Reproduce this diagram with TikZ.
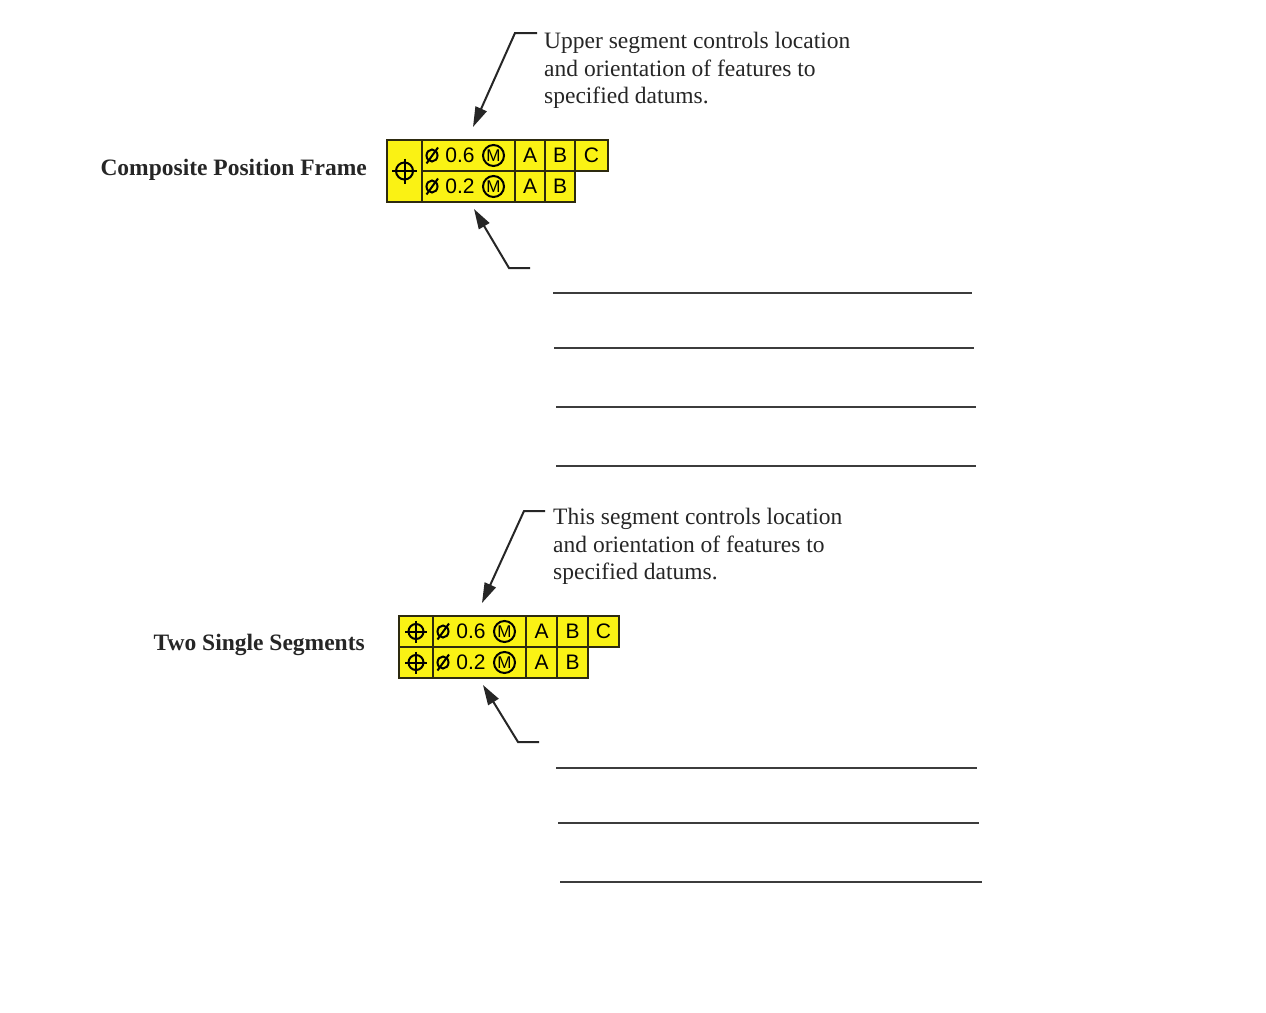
\documentclass[tikz,border=0pt]{standalone}
\usepackage{fontspec}
\setmainfont{Liberation Serif}
\newfontfamily\fcfont{Liberation Sans}
\usetikzlibrary{arrows.meta}
\definecolor{fcyellow}{RGB}{250,242,20}
\definecolor{fcline}{RGB}{45,42,15}
\definecolor{rulegray}{RGB}{60,60,60}
\begin{document}
\begin{tikzpicture}[x=1pt,y=-1pt,
  cell/.style={draw=fcline, fill=fcyellow, line width=2pt, inner sep=0pt,
    anchor=north west, minimum height=31pt,
    font=\fcfont\fontsize{21}{21}\selectfont, text=black},
  symline/.style={draw=black, line width=2pt},
  leader/.style={draw=black!85, line width=2pt, -{Triangle[length=20pt,width=12pt]}},
  rule/.style={draw=rulegray, line width=2.2pt},
  note/.style={anchor=north west, inner sep=0pt, align=left,
    font=\fontsize{23.5}{27.7}\selectfont, text=black!85},
  label/.style={anchor=base east, inner sep=0pt,
    font=\bfseries\fontsize{23.5}{27.7}\selectfont, text=black!85},
  tol/.pic={
    \draw[symline] (0,0) ellipse (5.5 and 6);
    \draw[symline] (-5.5,8) -- (6,-8);
    \node[inner sep=0pt, text=black, font=\fcfont\fontsize{21}{21}\selectfont] at (28,0) {#1};
    \draw[symline] (61.5,0) circle (10.5);
    \node[inner sep=0pt, text=black, font=\fcfont\fontsize{17}{17}\selectfont] at (61.5,0) {M};
  },
  posbig/.pic={
    \draw[symline] (0,0) circle (8.5);
    \draw[symline] (-12.5,0) -- (12.5,0) (0,-12.5) -- (0,12.5);
  },
  possmall/.pic={
    \draw[symline] (0,0) circle (7.5);
    \draw[symline] (-11,0) -- (11,0) (0,-11) -- (0,11);
  }
]
\useasboundingbox[fill=white] (0,0) rectangle (1266,1012);

% ---------- Composite Position Frame ----------
\node[label] (lab1) at (367,175) {Composite Position Frame};
\node[cell, minimum width=35pt, minimum height=62pt] (s1) at (386,139) {};
\pic at (s1.center) {posbig};
\node[cell, minimum width=93pt] (t1a) at (421,139) {};
\node[cell, minimum width=30pt] (a1a) at (514,139) {A};
\node[cell, minimum width=30pt] (b1a) at (544,139) {B};
\node[cell, minimum width=33pt] (c1a) at (574,139) {C};
\node[cell, minimum width=93pt] (t1b) at (421,170) {};
\node[cell, minimum width=30pt] (a1b) at (514,170) {A};
\node[cell, minimum width=30pt] (b1b) at (544,170) {B};
\pic at ([xshift=11pt]t1a.west) {tol=0.6};
\pic at ([xshift=11pt]t1b.west) {tol=0.2};

\node[note] (n1) at (544,32) {Upper segment controls location\\and orientation of features to\\specified datums.};
\coordinate (k1) at (537,33);
\coordinate (e1) at (515,33);
\coordinate (p1) at (473,127);
\draw[leader] (k1) -- (e1) -- (p1);

\coordinate (k2) at (530,268);
\coordinate (e2) at (509,268);
\coordinate (p2) at (474,209);
\draw[leader] (k2) -- (e2) -- (p2);

\coordinate (r1s) at (553,293); \coordinate (r1e) at (972,293);
\coordinate (r2s) at (554,348); \coordinate (r2e) at (974,348);
\coordinate (r3s) at (556,407); \coordinate (r3e) at (976,407);
\coordinate (r4s) at (556,466); \coordinate (r4e) at (976,466);
\draw[rule] (r1s) -- (r1e);
\draw[rule] (r2s) -- (r2e);
\draw[rule] (r3s) -- (r3e);
\draw[rule] (r4s) -- (r4e);

% ---------- Two Single Segments ----------
\node[label] (lab2) at (365,650) {Two Single Segments};
\node[cell, minimum width=34pt] (s2a) at (398,615) {};
\node[cell, minimum width=34pt] (s2b) at (398,646) {};
\pic at (s2a.center) {possmall};
\pic at (s2b.center) {possmall};
\node[cell, minimum width=93pt] (t2a) at (432,615) {};
\node[cell, minimum width=31pt] (a2a) at (525,615) {A};
\node[cell, minimum width=31pt] (b2a) at (556,615) {B};
\node[cell, minimum width=31pt] (c2a) at (587,615) {C};
\node[cell, minimum width=93pt] (t2b) at (432,646) {};
\node[cell, minimum width=31pt] (a2b) at (525,646) {A};
\node[cell, minimum width=31pt] (b2b) at (556,646) {B};
\pic at ([xshift=11pt]t2a.west) {tol=0.6};
\pic at ([xshift=11pt]t2b.west) {tol=0.2};

\node[note] (n2) at (553,508) {This segment controls location\\and orientation of features to\\specified datums.};
\coordinate (k3) at (545,511);
\coordinate (e3) at (524,511);
\coordinate (p3) at (482,603);
\draw[leader] (k3) -- (e3) -- (p3);

\coordinate (k4) at (539,742);
\coordinate (e4) at (518,742);
\coordinate (p4) at (483,685);
\draw[leader] (k4) -- (e4) -- (p4);

\coordinate (r5s) at (556,768); \coordinate (r5e) at (977,768);
\coordinate (r6s) at (558,823); \coordinate (r6e) at (979,823);
\coordinate (r7s) at (560,882); \coordinate (r7e) at (982,882);
\draw[rule] (r5s) -- (r5e);
\draw[rule] (r6s) -- (r6e);
\draw[rule] (r7s) -- (r7e);
\end{tikzpicture}
\end{document}
